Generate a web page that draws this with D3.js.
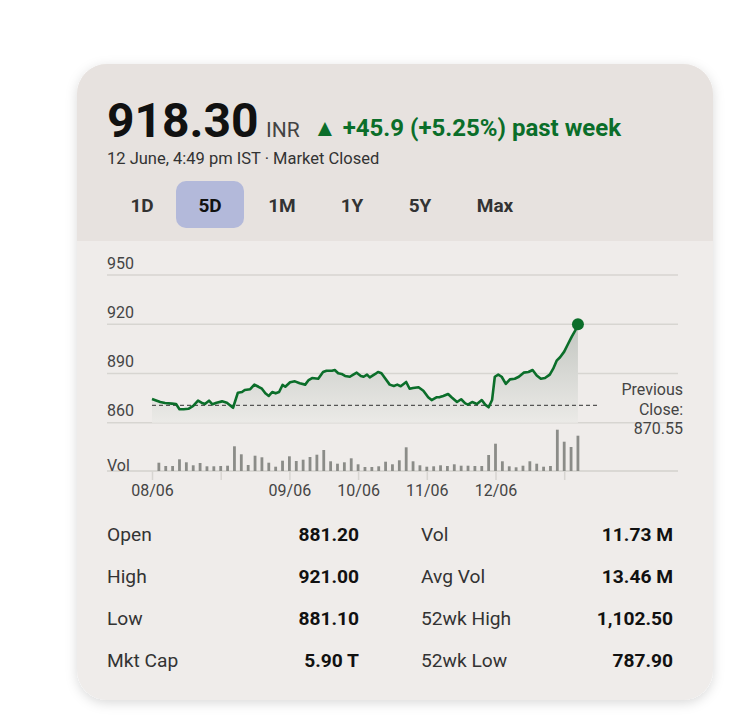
<!DOCTYPE html>
<html>
<head>
<meta charset="utf-8">
<script src="https://cdn.jsdelivr.net/npm/d3@7"></script>
<style>
  html, body { margin: 0; padding: 0; background: #ffffff; }
  svg { display: block; font-family: Roboto, "Noto Sans", sans-serif; }
</style>
</head>
<body>
<div id="chart"></div>
<script>
// ---------- DATA ----------
const price = "918.30";
const currency = "INR";
const changeText = "▲ +45.9 (+5.25%) past week";
const dateText = "12 June, 4:49 pm IST · Market Closed";
const ranges = ["1D", "5D", "1M", "1Y", "5Y", "Max"];
const activeRange = "5D";

const yTickValues = [860, 890, 920, 950];
const xTickSlots = [0, 10, 20, 30, 40, 50, 60];
const xTickLabels = ["08/06", "", "09/06", "10/06", "11/06", "12/06", ""];
const previousClose = 870.55;

const priceSlots = [0, 0.4, 1.2, 1.9, 2.9, 3.5, 4.0, 4.6, 5.3, 6.0, 6.7, 7.2, 7.7, 8.3, 8.8, 9.4, 10.2, 10.9, 11.8,
  12.5, 13.1, 13.5, 14.3, 14.9, 15.5, 16.0, 16.5, 17.0, 17.5, 18.0, 18.5, 19.0, 19.4, 20.1, 20.8, 21.5, 22.3, 22.8,
  23.3, 24.2, 24.9, 25.4, 26.2, 26.6, 27.1, 27.6, 28.1, 28.8, 29.3, 29.8, 30.4, 30.8, 31.3, 31.7, 32.5, 32.9, 33.4,
  33.9, 34.6, 35.2, 35.7, 36.2, 37.0, 37.5, 38.0, 38.8, 39.5, 40.2, 40.7, 41.4, 41.9, 42.4, 43.1, 43.6, 44.4, 45.0,
  45.6, 46.0, 46.6, 47.3, 48.0, 48.5, 49.0, 49.5, 49.9, 50.4, 50.9, 51.5, 52.1, 52.8, 53.4, 54.1, 54.8, 55.4, 56.0,
  56.6, 57.2, 57.9, 58.4, 58.9, 59.4, 60.0, 60.5, 61.1, 61.6, 62.0];
const prices = [874.4, 873.8, 872.6, 872.0, 871.6, 871.4, 868.2, 868.2, 868.5, 870.2, 873.4, 872.2, 871.4, 873.4, 871.2, 872.2, 873.0, 872.2, 869.1,
  878.3, 878.7, 879.9, 880.4, 883.2, 881.9, 880.7, 877.9, 876.3, 878.7, 877.9, 878.7, 883.0, 881.9, 884.6, 885.2, 884.0, 883.2, 886.0,
  887.2, 886.8, 890.9, 891.7, 891.7, 892.1, 890.1, 889.7, 888.5, 888.0, 889.3, 890.5, 888.5, 888.0, 889.3, 887.6, 889.7, 890.9, 890.1,
  887.2, 883.2, 882.4, 883.2, 882.2, 884.8, 880.7, 881.1, 881.6, 879.5, 875.5, 873.8, 875.5, 875.6, 876.3, 877.5, 875.5, 872.6, 874.3,
  871.8, 871.0, 872.6, 871.4, 873.8, 871.0, 869.4, 873.8, 888.0, 889.3, 888.0, 883.6, 886.4, 886.8, 888.0, 890.5, 890.9, 892.1, 888.8,
  886.8, 887.2, 889.3, 892.9, 897.8, 899.9, 903.3, 907.5, 912.4, 916.1, 920.0];

// volume per slot (thousands of shares), slots 1..62
const volumes = [830, 500, 500, 1170, 870, 570, 800, 470, 470, 500, 530, 2470, 1670, 600, 1530, 1370, 830, 430, 1030, 1470,
  1000, 1130, 1400, 1630, 2100, 970, 730, 870, 1270, 670, 400, 400, 470, 930, 670, 1070, 2370, 970, 570, 430,
  470, 570, 500, 670, 530, 530, 500, 500, 1600, 2730, 970, 470, 370, 530, 970, 730, 430, 500, 4130, 2930, 2400, 3530];

const statLabelsLeft = ["Open", "High", "Low", "Mkt Cap"];
const statValuesLeft = ["881.20", "921.00", "881.10", "5.90 T"];
const statLabelsRight = ["Vol", "Avg Vol", "52wk High", "52wk Low"];
const statValuesRight = ["11.73 M", "13.46 M", "1,102.50", "787.90"];

// ---------- DRAW ----------
const W = 745, H = 727;
const svg = d3.select("#chart").append("svg").attr("width", W).attr("height", H);
const defs = svg.append("defs");

const card = { x: 77, y: 64, w: 636, h: 636, r: 30 };

const shadow = defs.append("filter").attr("id", "shadow")
  .attr("x", "-10%").attr("y", "-10%").attr("width", "120%").attr("height", "125%");
shadow.append("feDropShadow").attr("dx", 0).attr("dy", 3).attr("stdDeviation", 6)
  .attr("flood-color", "#000").attr("flood-opacity", 0.15);

defs.append("clipPath").attr("id", "cardClip")
  .append("rect").attr("x", card.x).attr("y", card.y).attr("width", card.w).attr("height", card.h).attr("rx", card.r);

svg.append("rect").attr("x", card.x).attr("y", card.y).attr("width", card.w).attr("height", card.h)
  .attr("rx", card.r).attr("fill", "#efecea").attr("filter", "url(#shadow)");

const cg = svg.append("g").attr("clip-path", "url(#cardClip)");
cg.append("rect").attr("x", card.x).attr("y", card.y).attr("width", card.w).attr("height", 241 - card.y)
  .attr("fill", "#e7e2df");

// Header text
const head = svg.append("g");
head.append("text").attr("x", 107).attr("y", 137).attr("font-size", 48).attr("font-weight", 700)
  .attr("fill", "#111").text(price);
head.append("text").attr("x", 266).attr("y", 137).attr("font-size", 21).attr("fill", "#444").text(currency);
head.append("text").attr("x", 313).attr("y", 136).attr("font-size", 24).attr("font-weight", 700)
  .attr("fill", "#0b6e2a").text(changeText);
head.append("text").attr("x", 107).attr("y", 164).attr("font-size", 16.5).attr("fill", "#333").text(dateText);

// Range buttons
const btnCenters = [142, 210, 282, 352, 420, 495];
const btn = head.selectAll("g.btn").data(ranges).join("g").attr("class", "btn");
btn.filter(d => d === activeRange).append("rect")
  .attr("x", d => btnCenters[ranges.indexOf(d)] - 34).attr("y", 181)
  .attr("width", 68).attr("height", 47).attr("rx", 10).attr("fill", "#b3b9da");
btn.append("text").attr("x", (d, i) => btnCenters[i]).attr("y", 212).attr("text-anchor", "middle")
  .attr("font-size", 19).attr("font-weight", 700).attr("fill", d => d === activeRange ? "#111" : "#333").text(d => d);

// Scales
const x = d3.scaleLinear().domain([0, 60]).range([152, 564.2]);
const y = d3.scaleLinear().domain([860, 950]).range([422.7, 275]);
const yv = d3.scaleLinear().domain([0, 4400]).range([471, 427]);
const gridX0 = 107, gridX1 = 678;

const chart = svg.append("g");

// Gridlines
chart.selectAll("line.grid").data(yTickValues).join("line").attr("class", "grid")
  .attr("x1", gridX0).attr("x2", gridX1).attr("y1", d => y(d)).attr("y2", d => y(d))
  .attr("stroke", "#d7d5d1").attr("stroke-width", 1.5);

// Area fill
const grad = defs.append("linearGradient").attr("id", "areaGrad")
  .attr("gradientUnits", "userSpaceOnUse").attr("x1", 0).attr("x2", 0)
  .attr("y1", y(d3.max(prices))).attr("y2", y(860));
grad.append("stop").attr("offset", "0%").attr("stop-color", "#c3c6c1");
grad.append("stop").attr("offset", "100%").attr("stop-color", "#ebeae7");

const pts = priceSlots.map((s, i) => ({ s, p: prices[i] }));
chart.append("path").datum(pts)
  .attr("d", d3.area().x(d => x(d.s)).y0(y(860)).y1(d => y(d.p)))
  .attr("fill", "url(#areaGrad)");

chart.selectAll("text.ylab").data(yTickValues).join("text").attr("class", "ylab")
  .attr("x", 107).attr("y", d => y(d) - 6.5).attr("font-size", 16).attr("fill", "#444").text(d => d);

// Previous close dashed line
chart.append("line").attr("x1", x(0)).attr("x2", 598).attr("y1", y(previousClose)).attr("y2", y(previousClose))
  .attr("stroke", "#555").attr("stroke-width", 1.3).attr("stroke-dasharray", "4,3");

// Price line
chart.append("path").datum(pts)
  .attr("d", d3.line().x(d => x(d.s)).y(d => y(d.p)))
  .attr("fill", "none").attr("stroke", "#0b6e2a").attr("stroke-width", 2.6).attr("stroke-linejoin", "round");
const last = pts[pts.length - 1];
chart.append("circle").attr("cx", x(last.s)).attr("cy", y(last.p)).attr("r", 6).attr("fill", "#0b6e2a");

// Previous close label
const pc = chart.append("text").attr("text-anchor", "end").attr("font-size", 16).attr("fill", "#444");
["Previous", "Close:", previousClose.toFixed(2)].forEach((t, i) => {
  pc.append("tspan").attr("x", 683).attr("y", 395 + i * 19.5).text(t);
});

// Volume baseline
chart.append("line").attr("x1", gridX0).attr("x2", gridX1).attr("y1", yv(0)).attr("y2", yv(0))
  .attr("stroke", "#dad8d4").attr("stroke-width", 2);

// Volume bars
chart.selectAll("rect.vol").data(volumes).join("rect").attr("class", "vol")
  .attr("x", (d, i) => x(i + 1) - 1.4).attr("width", 2.8)
  .attr("y", d => yv(d)).attr("height", d => yv(0) - yv(d))
  .attr("fill", "#8b8c88");

chart.append("text").attr("x", 107).attr("y", 471).attr("font-size", 16).attr("fill", "#444").text("Vol");

// X axis
const xAxis = d3.axisBottom(x).tickValues(xTickSlots)
  .tickFormat((d, i) => xTickLabels[i]).tickSize(9).tickPadding(5);
const xg = chart.append("g").attr("transform", `translate(0,${yv(0)})`).call(xAxis);
xg.select(".domain").remove();
xg.selectAll(".tick line").attr("stroke", "#d7d5d1").attr("stroke-width", 1.5);
xg.selectAll(".tick text").attr("font-size", 16).attr("fill", "#444")
  .attr("font-family", "Roboto, sans-serif").attr("dy", 0).attr("y", 25);

// Stats
const rowY = [541, 583, 625, 667];
const stats = svg.append("g").attr("font-size", 19.2);
stats.selectAll("text.ll").data(statLabelsLeft).join("text").attr("class", "ll")
  .attr("x", 107).attr("y", (d, i) => rowY[i]).attr("fill", "#333").text(d => d);
stats.selectAll("text.lv").data(statValuesLeft).join("text").attr("class", "lv")
  .attr("x", 359).attr("y", (d, i) => rowY[i]).attr("text-anchor", "end").attr("font-weight", 700)
  .attr("fill", "#111").text(d => d);
stats.selectAll("text.rl").data(statLabelsRight).join("text").attr("class", "rl")
  .attr("x", 421).attr("y", (d, i) => rowY[i]).attr("fill", "#333").text(d => d);
stats.selectAll("text.rv").data(statValuesRight).join("text").attr("class", "rv")
  .attr("x", 673).attr("y", (d, i) => rowY[i]).attr("text-anchor", "end").attr("font-weight", 700)
  .attr("fill", "#111").text(d => d);
</script>
</body>
</html>
